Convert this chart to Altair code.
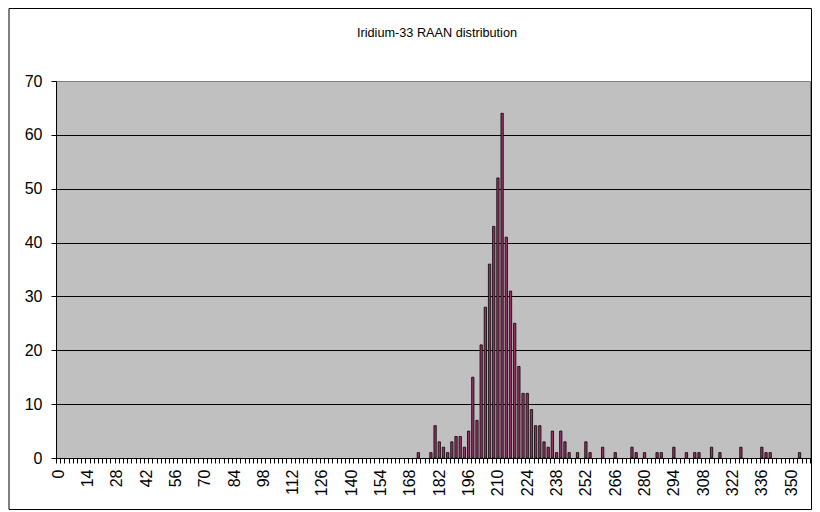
import altair as alt
import pandas as pd

# Categories: RAAN bins (degrees) on the x axis
categories = list(range(0, 360, 2))
# Non-empty bins
raan_deg = [172, 178, 180, 182, 184, 186, 188, 190, 192, 194, 196, 198, 200, 202,
            204, 206, 208, 210, 212, 214, 216, 218, 220, 222, 224, 226, 228, 230,
            232, 234, 236, 238, 240, 242, 244, 248, 252, 254, 260, 266, 274, 276,
            280, 286, 288, 294, 300, 304, 306, 312, 316, 326, 336, 338, 340, 354]
counts = [1, 1, 6, 3, 2, 1, 3, 4, 4, 2, 5, 15, 7, 21,
          28, 36, 43, 52, 64, 41, 31, 25, 17, 12, 12, 9, 6, 6,
          3, 2, 5, 1, 5, 3, 1, 1, 3, 1, 2, 1, 2, 1,
          1, 1, 1, 2, 1, 1, 1, 2, 1, 2, 2, 1, 1, 1]
y_ticks = [0, 10, 20, 30, 40, 50, 60, 70]
title_text = "Iridium-33 RAAN distribution"

df = pd.DataFrame({"raan": raan_deg, "count": counts})

FONT = "Liberation Sans"
W, H = 754, 377
PL, PT, PR, PB = 48, 73, 2, 52

bars = alt.Chart(df).mark_bar(
    size=2.3, color="#993366", stroke="black", strokeWidth=0.8
).encode(
    x=alt.X("raan:O", scale=alt.Scale(domain=categories, paddingInner=0, paddingOuter=0),
            sort=categories,
            axis=alt.Axis(title=None, labelAngle=270, labelFontSize=16, labelFont=FONT,
                          labelColor="black", labelPadding=6, tickSize=5, tickColor="black",
                          tickBand="extent", domainColor="black", labelOverlap=False,
                          labelExpr="datum.value % 14 == 0 ? datum.label : ''")),
    y=alt.Y("count:Q", scale=alt.Scale(domain=[0, 70], nice=False),
            axis=alt.Axis(title=None, values=y_ticks, labelFontSize=16, labelFont=FONT,
                          labelColor="black", labelPadding=9, tickSize=5, tickColor="black",
                          domainColor="black", grid=True,
                          gridColor={"condition": {"test": "datum.value == 70", "value": "#808080"},
                                     "value": "black"},
                          gridOpacity=1, gridWidth=1)),
)

title = alt.Chart(pd.DataFrame({"t": [title_text]})).mark_text(
    font=FONT, fontSize=12.7, color="black", baseline="middle", align="center"
).encode(text="t:N", x=alt.value(W / 2 + 4), y=alt.value(-48))

frame = alt.Chart(pd.DataFrame({"a": [0]})).mark_rect(
    fill=None, stroke="black", strokeWidth=1
).encode(x=alt.value(-PL + 1), x2=alt.value(W + PR - 0.5),
         y=alt.value(-PT + 0.5), y2=alt.value(H + PB - 0.5))

chart = alt.layer(bars, title, frame).properties(
    width=W, height=H,
    autosize=alt.AutoSizeParams(type="none"),
    padding={"left": PL, "top": PT, "right": PR, "bottom": PB},
    background="white",
).configure_view(fill="#C0C0C0", stroke="#808080", strokeWidth=1)

chart.save("out.html", embed_options={"renderer": "svg", "actions": False})
